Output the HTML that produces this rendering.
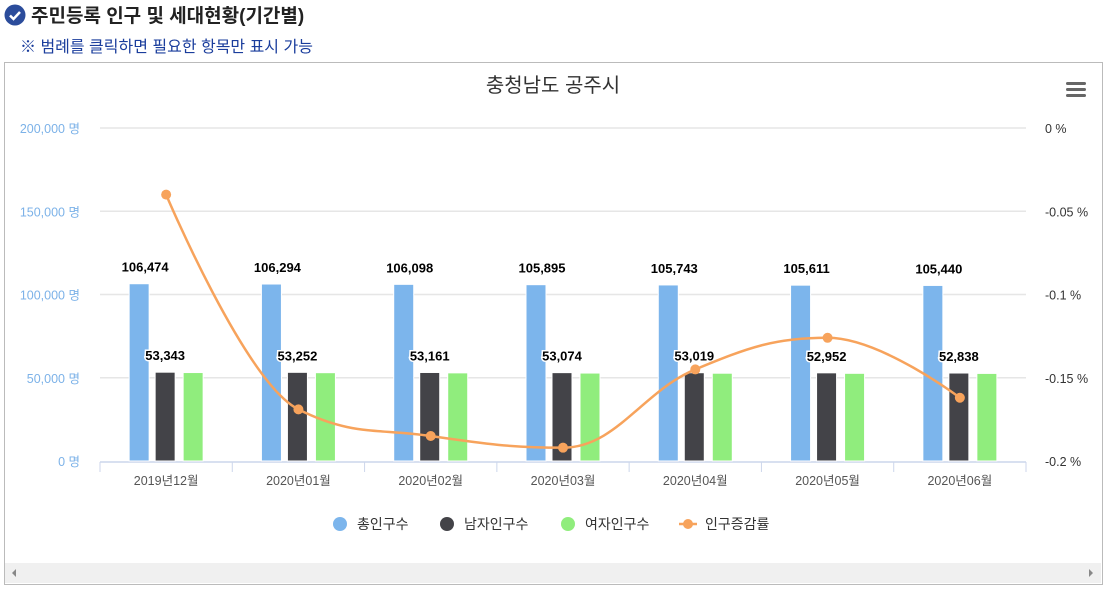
<!DOCTYPE html>
<html><head><meta charset="utf-8">
<style>
body{margin:0;width:1106px;height:589px;background:#fff;font-family:"Liberation Sans","Noto Sans CJK KR",sans-serif;overflow:hidden;position:relative}
#hdr{position:absolute;left:4px;top:1px;font-size:19px;font-weight:bold;color:#222;display:flex;align-items:center}
#sub{position:absolute;left:20px;top:33px;font-size:16px;color:#1a3d9c}
#box{position:absolute;left:4px;top:62px;width:1097px;height:521px;border:1px solid #bbb}
svg text{font-family:"Liberation Sans","Noto Sans CJK KR",sans-serif}
</style></head><body>
<div id="hdr"><svg width="22" height="22"><circle cx="11" cy="11" r="10.5" fill="#2b4c9b"/><path d="M6 11.5l3.5 3.5 6.5-7" stroke="#fff" stroke-width="2.5" fill="none"/></svg><span style="margin-left:5px">주민등록 인구 및 세대현황(기간별)</span></div>
<div id="sub">※ 범례를 클릭하면 필요한 항목만 표시 가능</div>
<div id="box"></div>
<svg id="chart" width="1106" height="589" style="position:absolute;left:0;top:0"></svg>
<script>
const categories=["2019년12월","2020년01월","2020년02월","2020년03월","2020년04월","2020년05월","2020년06월"];
const totalPop=[106474,106294,106098,105895,105743,105611,105440];
const malePop=[53343,53252,53161,53074,53019,52952,52838];
const femalePop=[53131,53042,52937,52821,52724,52659,52602];
const rate=[-0.04,-0.169,-0.185,-0.192,-0.145,-0.126,-0.162];
const leftTicks=[0,50000,100000,150000,200000];
const rightTicks=[0,-0.05,-0.1,-0.15,-0.2];

const NS="http://www.w3.org/2000/svg";
const svg=document.getElementById('chart');
const X0=100,X1=1026,Y0=461,Y1=128;
const cw=(X1-X0)/categories.length;
const yL=v=>Y0-(v/200000)*(Y0-Y1);
const yR=v=>Y1+(v/-0.2)*(Y0-Y1);
const xC=i=>X0+cw*(i+0.5);
function el(t,a,txt){const e=document.createElementNS(NS,t);for(const k in a)e.setAttribute(k,a[k]);if(txt!=null)e.textContent=txt;svg.appendChild(e);return e;}
const fmt=v=>v.toLocaleString('en-US');

let e=el('text',{x:553,y:92,'text-anchor':'middle','font-size':20,fill:'#333'},'충청남도 공주시');

for(let k=0;k<3;k++){e=el('rect',{x:1066,y:82+k*6,width:20,height:3,rx:1.5,fill:'#666'});
}

leftTicks.forEach(v=>{
 if(v>0){e=el('line',{x1:X0,x2:X1,y1:yL(v),y2:yL(v),stroke:'#e6e6e6','stroke-width':1.5});}
 e=el('text',{x:80,y:yL(v)+5,'text-anchor':'end','font-size':12.5,fill:'#7cb2e8'},fmt(v)+' 명');
 
});
rightTicks.forEach(v=>{
 e=el('text',{x:1045,y:yR(v)+5,'font-size':12.5,fill:'#333'},(v===0?'0':String(v))+' %');
 
});
e=el('line',{x1:X0,x2:X1,y1:Y0+1,y2:Y0+1,stroke:'#ccd6eb','stroke-width':1.5});

for(let i=0;i<=categories.length;i++){e=el('line',{x1:X0+cw*i,x2:X0+cw*i,y1:Y0+1,y2:Y0+11,stroke:'#ccd6eb'});}
categories.forEach((c,i)=>{e=el('text',{x:xC(i),y:Y0+24,'text-anchor':'middle','font-size':12.5,fill:'#555'},c);});

const series=[[totalPop,'#7cb5ec',-37],[malePop,'#434348',-11],[femalePop,'#90ed7d',17]];
series.forEach(([arr,col,off],s)=>{
 arr.forEach((v,i)=>{
  e=el('rect',{x:xC(i)+off,y:yL(v),width:20,height:Y0-yL(v),fill:col,stroke:'#fff','stroke-width':1});
  
  
  if(s<2){e=el('text',{x:xC(i)+off+(s==0?16:10),y:yL(v)-12,'text-anchor':'middle','font-size':13,'font-weight':'bold',fill:'#000',stroke:'#fff','stroke-width':3,'paint-order':'stroke'},fmt(v));
   }
 });
});
const pts=rate.map((v,i)=>[xC(i),yR(v)]);
const sm=1.5,den=2.5;
const ctrl=pts.map((p,i)=>{
 if(i===0||i===pts.length-1)return [p,p];
 const l=pts[i-1],n=pts[i+1];
 let lx=(sm*p[0]+l[0])/den,ly=(sm*p[1]+l[1])/den,rx=(sm*p[0]+n[0])/den,ry=(sm*p[1]+n[1])/den;
 const corr=((ry-ly)*(rx-p[0]))/(rx-lx)+p[1]-ry;ly+=corr;ry+=corr;
 if(ly>Math.max(l[1],p[1])){ly=Math.max(l[1],p[1]);ry=2*p[1]-ly;}
 else if(ly<Math.min(l[1],p[1])){ly=Math.min(l[1],p[1]);ry=2*p[1]-ly;}
 if(ry>Math.max(n[1],p[1])){ry=Math.max(n[1],p[1]);ly=2*p[1]-ry;}
 else if(ry<Math.min(n[1],p[1])){ry=Math.min(n[1],p[1]);ly=2*p[1]-ry;}
 return [[lx,ly],[rx,ry]];
});
let d='M'+pts[0][0]+','+pts[0][1];
for(let i=1;i<pts.length;i++){
 const c1=ctrl[i-1][1],c2=ctrl[i][0];
 d+=` C${c1[0]},${c1[1]} ${c2[0]},${c2[1]} ${pts[i][0]},${pts[i][1]}`;
}
e=el('path',{d:d,fill:'none',stroke:'#f7a35c','stroke-width':2.5});

pts.forEach(p=>{e=el('circle',{cx:p[0],cy:p[1],r:5,fill:'#f7a35c'});});

const leg=[['총인구수','#7cb5ec',340,'c'],['남자인구수','#434348',447,'c'],['여자인구수','#90ed7d',568,'c'],['인구증감률','#f7a35c',688,'l']];
leg.forEach(([t,c,x,k])=>{
 if(k=='c')el('circle',{cx:x,cy:524,r:7,fill:c});
 else{el('line',{x1:x-9,x2:x+9,y1:524,y2:524,stroke:c,'stroke-width':2.5});el('circle',{cx:x,cy:524,r:5,fill:c});}
 e=el('text',{x:x+17,y:529,'font-size':14,fill:'#333'},t);
 
});
e=el('rect',{x:5,y:563,width:1096,height:20,fill:'#f0f0f0'});

el('path',{d:'M16,569 l-4,4 l4,4z',fill:'#888'});
el('path',{d:'M1089,569 l4,4 l-4,4z',fill:'#888'});
</script>
</body></html>
